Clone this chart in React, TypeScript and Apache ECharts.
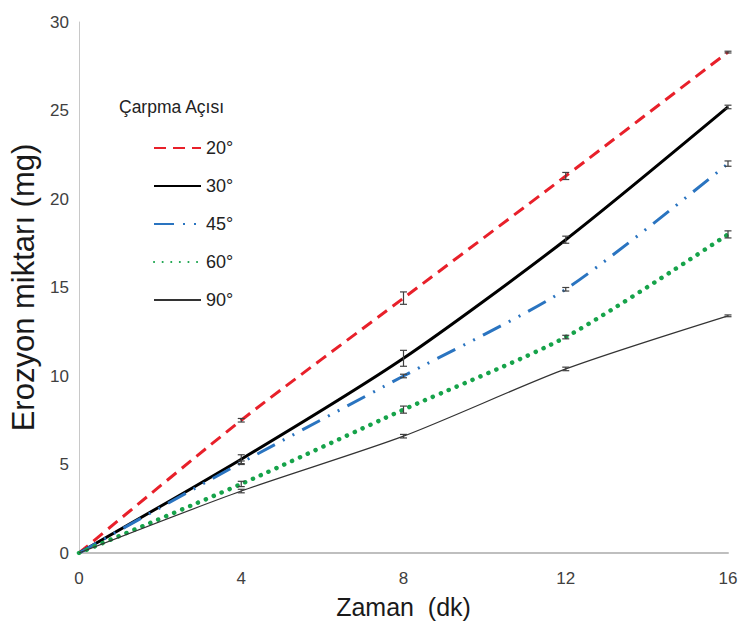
import React, { useEffect, useRef } from "react";
import * as echarts from "echarts";

const times = [0, 4, 8, 12, 16];
const seriesNames = ["20°", "30°", "45°", "60°", "90°"];
const s20 = [0, 7.5, 14.4, 21.3, 28.3];
const s30 = [0, 5.3, 11.0, 17.7, 25.2];
const s45 = [0, 5.1, 10.0, 14.9, 22.0];
const s60 = [0, 3.9, 8.1, 12.2, 18.0];
const s90 = [0, 3.5, 6.6, 10.4, 13.4];
const e20 = [0, 0.1, 0.35, 0.2, 0.05];
const e30 = [0, 0.25, 0.45, 0.2, 0.1];
const e45 = [0, 0.1, 0.1, 0.1, 0.15];
const e60 = [0, 0.15, 0.2, 0.1, 0.2];
const e90 = [0, 0.1, 0.1, 0.1, 0.05];
const xTicks = [0, 4, 8, 12, 16];
const yTicks = [0, 5, 10, 15, 20, 25, 30];

const FONT = "'Liberation Sans Narrow', 'Liberation Sans', Arial, sans-serif";

export default function App() {
  const ref = useRef<HTMLDivElement>(null);
  useEffect(() => {
    const chart = echarts.init(ref.current!, null, { renderer: "svg" });
    const values = [s20, s30, s45, s60, s90];
    const errs = [e20, e30, e45, e60, e90];
    const styles: any[] = [
      { color: "#e8202a", width: 3, type: [12, 7] },
      { color: "#000000", width: 3, type: "solid" },
      { color: "#2a74c0", width: 3, type: [20, 9, 2, 9, 2, 9] },
      { color: "#16a34a", width: 4.5, type: [0.1, 8.5], cap: "round" },
      { color: "#333333", width: 1.2, type: "solid" },
    ];
    const lineSeries = values.map((v, i) => ({
      name: seriesNames[i],
      type: "line",
      data: times.map((t, j) => [t, v[j]]),
      smooth: 0.25,
      showSymbol: false,
      symbol: "none",
      lineStyle: styles[i],
      itemStyle: { color: styles[i].color },
      z: 2,
    }));
    const errData: number[][] = [];
    values.forEach((v, i) => {
      times.forEach((t, j) => {
        if (t > 0) errData.push([t, v[j], errs[i][j]]);
      });
    });
    const errSeries = {
      type: "custom",
      name: "err",
      data: errData,
      z: 3,
      renderItem: (params: any, api: any) => {
        const x = api.value(0);
        const y = api.value(1);
        const e = api.value(2);
        const top = api.coord([x, y + e]);
        const bot = api.coord([x, y - e]);
        const w = 3.5;
        const st = { stroke: "#404040", lineWidth: 1.2 };
        return {
          type: "group",
          children: [
            { type: "line", shape: { x1: top[0], y1: top[1], x2: bot[0], y2: bot[1] }, style: st },
            { type: "line", shape: { x1: top[0] - w, y1: top[1], x2: top[0] + w, y2: top[1] }, style: st },
            { type: "line", shape: { x1: bot[0] - w, y1: bot[1], x2: bot[0] + w, y2: bot[1] }, style: st },
          ],
        };
      },
    };
    chart.setOption({
      animation: false,
      backgroundColor: "#ffffff",
      grid: { left: 79, right: 12, top: 22, bottom: 77, outerBoundsMode: "none", containLabel: false },
      xAxis: {
        type: "value",
        min: xTicks[0],
        max: xTicks[xTicks.length - 1],
        interval: 4,
        name: "Zaman  (dk)",
        nameLocation: "middle",
        nameGap: 41,
        nameTextStyle: { fontSize: 25, color: "#1a1a1a", fontFamily: FONT },
        axisLine: { lineStyle: { color: "#bfbfbf", width: 2 } },
        axisTick: { show: false },
        splitLine: { show: false },
        axisLabel: { fontSize: 17, color: "#404040", fontFamily: FONT, margin: 17 },
      },
      yAxis: {
        type: "value",
        min: yTicks[0],
        max: yTicks[yTicks.length - 1],
        interval: 5,
        name: "Erozyon miktarı (mg)",
        nameLocation: "middle",
        nameGap: 39,
        nameTextStyle: { fontSize: 31, color: "#1a1a1a", fontFamily: FONT },
        axisLine: { show: true, lineStyle: { color: "#c8c8c8", width: 1 } },
        axisTick: { show: false },
        splitLine: { show: false },
        axisLabel: { fontSize: 17, color: "#404040", fontFamily: FONT, margin: 10 },
      },
      legend: {
        orient: "vertical",
        left: 148,
        top: 134,
        itemWidth: 47,
        itemHeight: 14,
        itemGap: 20,
        data: seriesNames,
        itemStyle: { opacity: 0, color: "transparent", borderWidth: 0 },
        textStyle: { fontSize: 18, color: "#222", fontFamily: FONT },
      },
      graphic: [
        {
          type: "text",
          left: 119,
          top: 98,
          style: { text: "Çarpma Açısı", fontSize: 17.5, fill: "#222", fontFamily: FONT },
        },
      ],
      series: [...lineSeries, errSeries],
    });
    return () => chart.dispose();
  }, []);
  return (
    <div
      ref={ref}
      style={{ position: "fixed", left: 0, top: 0, width: 740, height: 630, background: "#fff" }}
    />
  );
}
